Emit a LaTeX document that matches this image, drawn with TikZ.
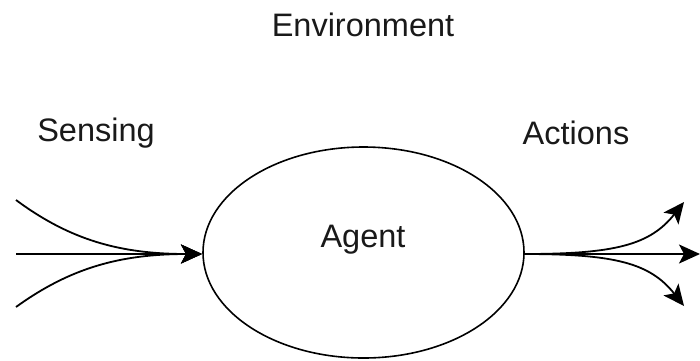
\documentclass[tikz,border=0pt]{standalone}
\usepackage{fontspec}
\setmainfont{Liberation Sans}
\usetikzlibrary{arrows.meta,shapes.geometric}
\begin{document}
\begin{tikzpicture}[x=1pt,y=-1pt,
  lbl/.style={font=\fontsize{32.5}{38}\selectfont, text=black!90, inner sep=0pt},
  flow/.style={line width=1.8pt, -{Stealth[length=21pt,width=19pt,inset=5pt]}}]
\useasboundingbox (0,0) rectangle (700,360);
% agent
\node[draw, line width=1.6pt, ellipse, minimum width=321pt, minimum height=211pt, inner sep=0pt] (agent) at (363.5,252.5) {};
\node[lbl] (agentlbl) at (363,240) {Agent};
% labels
\node[lbl] (env) at (363,25) {Environment};
\node[lbl] (sens) at (96,133) {Sensing};
\node[lbl] (act) at (576,133) {Actions};
% sensing inputs
\coordinate (s1) at (16,200);
\coordinate (s2) at (16,254);
\coordinate (s3) at (16,307);
\coordinate (in) at (202,254);
\draw[flow] (s1) .. controls (70,240) and (120,254) .. (in);
\draw[flow] (s3) .. controls (70,268) and (120,254) .. (in);
\draw[flow] (s2) -- (in);
% action outputs
\coordinate (out) at (524,254);
\coordinate (a1) at (684,202);
\coordinate (a2) at (700,254);
\coordinate (a3) at (684,306);
\draw[flow] (out) .. controls (615,254) and (650,245) .. (a1);
\draw[flow] (out) .. controls (615,254) and (650,263) .. (a3);
\draw[flow] (out) -- (a2);
\end{tikzpicture}
\end{document}
